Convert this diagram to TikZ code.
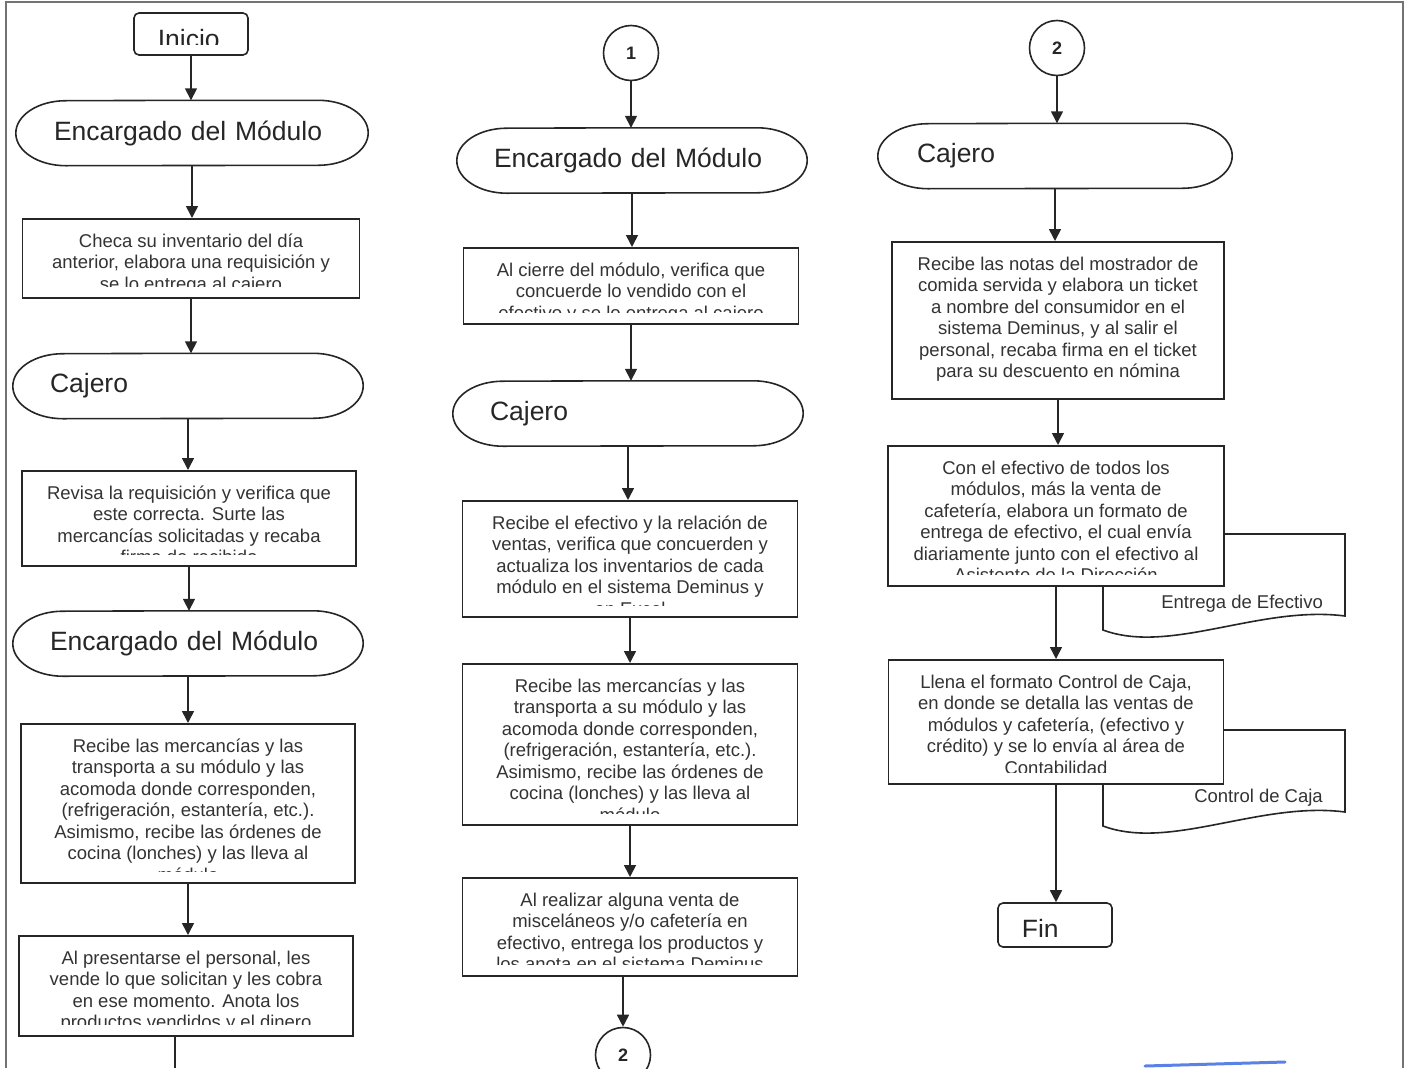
\documentclass[tikz,border=0pt]{standalone}
\usepackage{fontspec}
\setmainfont{Liberation Sans}
\usetikzlibrary{arrows.meta,calc}
\newcommand\headfont{\fontsize{26.5}{30}\selectfont}
\newcommand\bodyfont{\fontsize{18.5}{21.5}\selectfont}
\tikzset{
  >={Triangle[width=12pt,length=12pt]},
  line/.style={line width=1.6pt, draw=black!85},
  arr/.style={line, ->},
  proc/.style={line, fill=white, inner sep=0pt, anchor=north},
  proctext/.style={draw=none, fill=none, inner sep=0pt, minimum width=0pt, minimum height=0pt,
    align=center, font=\bodyfont, text=black!80},
  role/.style={inner sep=0pt, minimum height=65pt, text width=276pt, align=left,
    font=\headfont, text=black!85},
  term/.style={line, fill=white, rounded corners=5pt, inner sep=0pt, minimum width=114pt},
  termtext/.style={draw=none, fill=none, inner sep=0pt, minimum width=0pt, minimum height=0pt,
    rounded corners=0pt, font=\headfont, text=black!85},
  conn/.style={line, circle, inner sep=0pt, minimum size=55pt,
    font=\bfseries\fontsize{18}{20}\selectfont, text=black!85},
  doctext/.style={inner sep=0pt, font=\bodyfont, text=black!80, anchor=base east},
  frame/.style={line width=1.4pt, draw=black!55}
}
% process box: name, x, y (top), width, height, text (cut at the bottom)
\newcommand\procnode[6]{%
  \node[proc, minimum width=#4pt, minimum height=#5pt, path picture={
    \clip (path picture bounding box.north west) rectangle ([yshift=11pt]path picture bounding box.south east);
    \node[proctext, anchor=north] at ([yshift=-14pt]path picture bounding box.north) {#6};
  }] (#1) at (#2,#3) {};}
% start / end box: name, x, y, height, text
\newcommand\termnode[5]{%
  \node[term, minimum height=#4pt, path picture={
    \clip (path picture bounding box.north west) rectangle ([yshift=11pt]path picture bounding box.south east);
    \node[termtext, anchor=base west]
      at ([xshift=23pt,yshift=-35.6pt]path picture bounding box.north west) {#5};
  }] (#1) at (#2,#3) {};}

\begin{document}
\begin{tikzpicture}[x=1pt,y=1pt]
  \useasboundingbox (0,0) rectangle (1410,-1068);
  \clip (0,0) rectangle (1410,-1068);
  \draw[frame] (6,-1068) -- (6,-2) -- (1403,-2) -- (1403,-1068);
  %
  % documents, behind the boxes
  \draw[line, fill=white] (1103,-534) -- (1345,-534) -- (1345,-616)
    .. controls (1260,-605) and (1170,-655) .. (1103,-630) -- cycle;
  \node[doctext] (docent) at (1323,-608) {Entrega de Efectivo};
  \draw[line, fill=white] (1103,-730) -- (1345,-730) -- (1345,-812)
    .. controls (1260,-801) and (1170,-851) .. (1103,-826) -- cycle;
  \node[doctext] (doccaja) at (1323,-802) {Control de Caja};
  %
  % first column
  \termnode{inicio}{191}{-34}{42}{Inicio}
  \node[role, minimum width=352pt] (enc1) at (192,-133) {Encargado del Módulo};
  \procnode{p1a}{191}{-218}{337}{79}{Checa su inventario del día\\anterior, elabora una requisición y\\se lo entrega al cajero}
  \node[role, minimum width=350pt] (caj1) at (188,-386) {Cajero};
  \procnode{p1b}{189}{-470}{334}{95}{Revisa la requisición y verifica que\\este correcta. Surte las\\mercancías solicitadas y recaba\\firma de recibido}
  \node[role, minimum width=350pt] (enc2) at (188,-643.5) {Encargado del Módulo};
  \procnode{p1c}{188}{-723}{334}{159}{Recibe las mercancías y las\\transporta a su módulo y las\\acomoda donde corresponden,\\(refrigeración, estantería, etc.).\\Asimismo, recibe las órdenes de\\cocina (lonches) y las lleva al\\módulo}
  \procnode{p1d}{186}{-935}{334}{100}{Al presentarse el personal, les\\vende lo que solicitan y les cobra\\en ese momento. Anota los\\productos vendidos y el dinero}
  \coordinate (out1) at (175,-1068);
  %
  % second column
  \node[conn] (c1) at (631,-53) {1};
  \node[role, minimum width=350pt] (enc3) at (632,-160.5) {Encargado del Módulo};
  \procnode{p2a}{631}{-247}{335}{76}{Al cierre del módulo, verifica que\\concuerde lo vendido con el\\efectivo y se lo entrega al cajero}
  \node[role, minimum width=350pt] (caj2) at (628,-413.5) {Cajero};
  \procnode{p2b}{630}{-500}{335}{116}{Recibe el efectivo y la relación de\\ventas, verifica que concuerden y\\actualiza los inventarios de cada\\módulo en el sistema Deminus y\\en Excel}
  \procnode{p2c}{630}{-663}{335}{161}{Recibe las mercancías y las\\transporta a su módulo y las\\acomoda donde corresponden,\\(refrigeración, estantería, etc.).\\Asimismo, recibe las órdenes de\\cocina (lonches) y las lleva al\\módulo}
  \procnode{p2d}{630}{-877}{335}{98}{Al realizar alguna venta de\\misceláneos y/o cafetería en\\efectivo, entrega los productos y\\los anota en el sistema Deminus}
  \node[conn] (c2b) at (623,-1055) {2};
  %
  % third column
  \node[conn] (c2) at (1057,-48) {2};
  \node[role, minimum width=354pt] (caj3) at (1055,-156) {Cajero};
  \procnode{p3a}{1058}{-241}{332}{157}{Recibe las notas del mostrador de\\comida servida y elabora un ticket\\a nombre del consumidor en el\\sistema Deminus, y al salir el\\personal, recaba firma en el ticket\\para su descuento en nómina}
  \procnode{p3b}{1056}{-445}{336}{140}{Con el efectivo de todos los\\módulos, más la venta de\\cafetería, elabora un formato de\\entrega de efectivo, el cual envía\\diariamente junto con el efectivo al\\Asistente de la Dirección}
  \procnode{p3c}{1056}{-659}{335}{124}{Llena el formato Control de Caja,\\en donde se detalla las ventas de\\módulos y cafetería, (efectivo y\\crédito) y se lo envía al área de\\Contabilidad}
  \termnode{fin}{1055}{-925}{44}{Fin}
  %
  % outline of the role ovals
  \foreach \n in {enc1,caj1,enc2,enc3,caj2,caj3}
    \draw[line] (\n.north) -- ([xshift=-50pt]\n.north east)
      arc[start angle=90, end angle=-90, x radius=50pt, y radius=32.5pt]
      -- ([xshift=50pt]\n.south west)
      arc[start angle=270, end angle=90, x radius=50pt, y radius=32.5pt] -- cycle;
  %
  % connectors
  \foreach \a/\b in {inicio/enc1, enc1/p1a, p1a/caj1, caj1/p1b, p1b/enc2, enc2/p1c, p1c/p1d,
      c1/enc3, enc3/p2a, p2a/caj2, caj2/p2b, p2b/p2c, p2c/p2d,
      c2/caj3, caj3/p3a, p3a/p3b, p3b/p3c, p3c/fin}
    \draw[arr] (\a.south) -- (\a.south |- \b.north);
  \draw[arr] (c2b.north |- p2d.south) -- (c2b.north);
  \draw[line] (p1d.south -| out1) -- (out1);
  %
  \draw[line width=3pt, draw={rgb,255:red,90;green,130;blue,230}, line cap=round]
    (1145,-1066) -- (1285,-1062);
\end{tikzpicture}
\end{document}
